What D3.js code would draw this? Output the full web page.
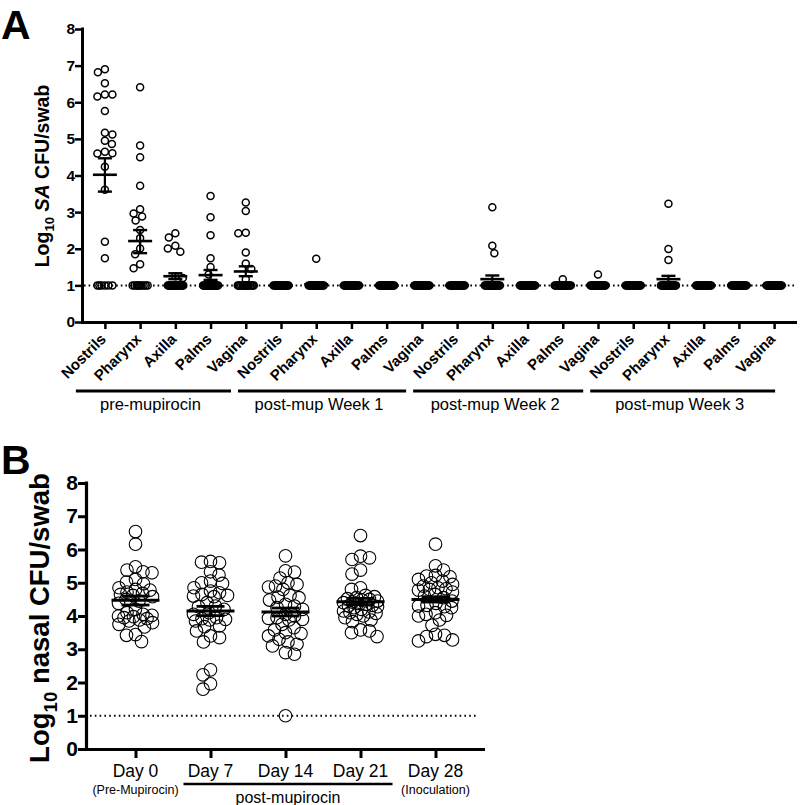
<!DOCTYPE html>
<html><head><meta charset="utf-8">
<script src="https://cdn.jsdelivr.net/npm/d3@7"></script>
<style>
html,body{margin:0;padding:0;background:#fff;}
svg{display:block;}
text{font-family:"Liberation Sans",Arial,Helvetica,sans-serif;fill:#000;}
</style></head>
<body>
<svg id="chart" width="800" height="805"></svg>
<script>
// ---------------- DATA: panel A ----------------
const sitesA = ["Nostrils","Pharynx","Axilla","Palms","Vagina",
                "Nostrils","Pharynx","Axilla","Palms","Vagina",
                "Nostrils","Pharynx","Axilla","Palms","Vagina",
                "Nostrils","Pharynx","Axilla","Palms","Vagina"];
const groupsA = ["pre-mupirocin","post-mup Week 1","post-mup Week 2","post-mup Week 3"];
const tickValuesA = [0,1,2,3,4,5,6,7,8];
const limitA = 1;

const pre_nostrils = [6.90,6.82,6.52,6.21,6.16,6.21,5.76,5.17,5.12,4.95,4.86,4.65,4.61,4.60,4.24,3.61,2.19,1.74,1,1,1,1,1,1];
const pre_pharynx  = [6.41,4.82,4.50,3.72,3.08,2.96,2.88,2.77,2.51,2.29,2.01,1.85,1.58,1.47,1,1,1,1,1,1,1,1,1,1];
const pre_axilla   = [2.42,2.31,2.08,2.01,1.92,1.25,1.20,1,1,1,1,1,1,1,1,1,1,1,1,1,1,1,1,1];
const pre_palms    = [3.44,2.86,2.37,1.74,1.50,1.30,1,1,1,1,1,1,1,1,1,1,1,1,1,1,1,1,1,1];
const pre_vagina   = [3.26,3.03,2.44,2.42,1.90,1.60,1.45,1.17,1,1,1,1,1,1,1,1,1,1,1,1,1,1,1,1];
const w1_nostrils  = [1,1,1,1,1,1,1,1,1,1,1,1,1,1,1,1,1,1,1,1,1,1,1,1];
const w1_pharynx   = [1.73,1,1,1,1,1,1,1,1,1,1,1,1,1,1,1,1,1,1,1,1,1,1,1];
const w1_axilla    = [1,1,1,1,1,1,1,1,1,1,1,1,1,1,1,1,1,1,1,1,1,1,1,1];
const w1_palms     = [1,1,1,1,1,1,1,1,1,1,1,1,1,1,1,1,1,1,1,1,1,1,1,1];
const w1_vagina    = [1,1,1,1,1,1,1,1,1,1,1,1,1,1,1,1,1,1,1,1,1,1,1,1];
const w2_nostrils  = [1,1,1,1,1,1,1,1,1,1,1,1,1,1,1,1,1,1,1,1,1,1,1,1];
const w2_pharynx   = [3.13,2.08,1.88,1,1,1,1,1,1,1,1,1,1,1,1,1,1,1,1,1,1,1,1,1];
const w2_axilla    = [1,1,1,1,1,1,1,1,1,1,1,1,1,1,1,1,1,1,1,1,1,1,1,1];
const w2_palms     = [1.17,1,1,1,1,1,1,1,1,1,1,1,1,1,1,1,1,1,1,1,1,1,1,1];
const w2_vagina    = [1.30,1,1,1,1,1,1,1,1,1,1,1,1,1,1,1,1,1,1,1,1,1,1,1];
const w3_nostrils  = [1,1,1,1,1,1,1,1,1,1,1,1,1,1,1,1,1,1,1,1,1,1,1,1];
const w3_pharynx   = [3.23,1.99,1.69,1,1,1,1,1,1,1,1,1,1,1,1,1,1,1,1,1,1,1,1,1];
const w3_axilla    = [1,1,1,1,1,1,1,1,1,1,1,1,1,1,1,1,1,1,1,1,1,1,1,1];
const w3_palms     = [1,1,1,1,1,1,1,1,1,1,1,1,1,1,1,1,1,1,1,1,1,1,1,1];
const w3_vagina    = [1,1,1,1,1,1,1,1,1,1,1,1,1,1,1,1,1,1,1,1,1,1,1,1];
const valuesA = [pre_nostrils,pre_pharynx,pre_axilla,pre_palms,pre_vagina,
                 w1_nostrils,w1_pharynx,w1_axilla,w1_palms,w1_vagina,
                 w2_nostrils,w2_pharynx,w2_axilla,w2_palms,w2_vagina,
                 w3_nostrils,w3_pharynx,w3_axilla,w3_palms,w3_vagina];
const meanA   = [4.02,2.21,1.25,1.28,1.38, 1,1.03,1,1,1, 1,1.17,1,1.01,1.01, 1,1.17,1,1,1];
const semLoA  = [3.56,1.88,1.17,1.15,1.25, 1,1.00,1,1,1, 1,1.07,1,1.00,1.00, 1,1.07,1,1,1];
const semHiA  = [4.47,2.51,1.33,1.42,1.52, 1,1.06,1,1,1, 1,1.27,1,1.03,1.04, 1,1.26,1,1,1];

// ---------------- DATA: panel B ----------------
const daysB = ["Day 0","Day 7","Day 14","Day 21","Day 28"];
const subLabelsB = ["(Pre-Mupirocin)","","","","(Inoculation)"];
const bracketB = "post-mupirocin";
const tickValuesB = [0,1,2,3,4,5,6,7,8];
const limitB = 1;
const day0  = [6.54,6.16,5.48,5.38,5.33,5.30,5.10,5.02,4.97,4.85,4.80,4.78,4.72,4.68,4.65,4.62,4.58,4.50,4.45,4.38,4.20,4.10,4.05,4.02,4.00,3.98,3.95,3.92,3.88,3.85,3.80,3.75,3.67,3.44,3.42,3.23];
const day7  = [5.64,5.62,5.60,5.33,5.23,5.05,5.00,4.98,4.85,4.75,4.70,4.65,4.62,4.60,4.58,4.40,4.30,4.28,4.20,4.10,4.05,3.95,3.92,3.90,3.88,3.85,3.70,3.68,3.55,3.40,3.35,3.22,2.38,2.23,1.96,1.80];
const day14 = [5.81,5.36,5.32,5.14,5.00,4.95,4.90,4.87,4.80,4.62,4.57,4.55,4.48,4.35,4.30,4.25,4.20,4.05,4.00,3.95,3.93,3.90,3.88,3.75,3.65,3.58,3.50,3.47,3.40,3.30,3.22,3.15,3.10,2.90,2.85,1.00];
const day21 = [6.42,5.80,5.75,5.70,5.38,5.26,4.85,4.80,4.62,4.58,4.55,4.52,4.50,4.48,4.45,4.42,4.40,4.38,4.35,4.32,4.30,4.28,4.25,4.20,4.15,4.12,4.10,4.08,4.05,4.00,3.95,3.88,3.83,3.58,3.55,3.50,3.38];
const day28 = [6.16,5.51,5.38,5.22,5.20,5.18,5.10,5.05,5.00,4.95,4.90,4.85,4.82,4.80,4.78,4.72,4.65,4.60,4.55,4.45,4.38,4.32,4.30,4.28,4.25,4.10,4.05,4.02,4.00,3.88,3.72,3.45,3.42,3.38,3.28,3.25];
const valuesB = [day0,day7,day14,day21,day28];
const meanB  = [4.47,4.15,4.12,4.43,4.50];
const semLoB = [4.33,4.01,4.00,4.34,4.42];
const semHiB = [4.60,4.29,4.24,4.53,4.58];

// ---------------- helpers ----------------
function swarm(values, y, d, maxW){
  const pts = values.map(v => ({v, y: y(v)})).sort((a,b) => a.y - b.y);
  const placed = [];
  pts.forEach((p, i) => {
    const sgn = i % 2 ? -1 : 1;
    const cands = [0];
    for (let k = 0.5; k <= maxW + 1e-9; k += 0.5) cands.push(sgn*k, -sgn*k);
    let found = null, best = 0, bestScore = -1;
    for (const x of cands){
      let md = Infinity;
      for (const q of placed){ const dd = Math.hypot(x - q.x, p.y - q.y); if (dd < md) md = dd; }
      if (md >= d){ found = x; break; }
      if (md > bestScore + 1e-6){ bestScore = md; best = x; }
    }
    p.x = found !== null ? found : best;
    placed.push(p);
  });
  return pts;
}
function yTitle(g, x, y, size, parts){
  const t = g.append("text").attr("transform", `translate(${x},${y}) rotate(-90)`)
    .attr("text-anchor","middle").attr("font-size", size).attr("font-weight","bold");
  parts.forEach(p => {
    const ts = t.append("tspan").text(p.t);
    if (p.sub){ ts.attr("font-size", size*0.68).attr("dy", size*0.28); }
    if (p.after){ ts.attr("dy", -size*0.28); }
    if (p.italic){ ts.attr("font-style","italic"); }
  });
}

const svg = d3.select("#chart");

// ================= PANEL A =================
const gA = svg.append("g");
const xA = d3.scalePoint().domain(d3.range(sitesA.length)).range([82, 797]).padding(0.65);
const yA = d3.scaleLinear().domain([0, 8]).range([322, 29]);

gA.append("text").attr("x", 1).attr("y", 39).attr("font-size", 41).attr("font-weight","bold").text("A");

// dotted limit line
gA.append("line").attr("x1", 84).attr("x2", 797).attr("y1", yA(limitA)).attr("y2", yA(limitA))
  .attr("stroke","#000").attr("stroke-width",2).attr("stroke-dasharray","1.6,3");

// y axis
const axA = gA.append("g").attr("transform","translate(82,0)")
  .call(d3.axisLeft(yA).tickValues(tickValuesA).tickSize(7).tickSizeOuter(0).tickFormat(d3.format("d")));
axA.select(".domain").attr("stroke-width",3).attr("d", `M0.5,${yA(8)-1.5}V${yA(0)+1}`);
axA.selectAll(".tick line").attr("stroke-width",2.5);
axA.selectAll(".tick text").attr("font-size",15.5).attr("font-weight","bold").attr("x",-7)
  .attr("font-family",'"Liberation Sans",Arial,sans-serif');

// x axis
const axXA = gA.append("g").attr("transform",`translate(0,${yA(0)})`)
  .call(d3.axisBottom(xA).tickSize(7).tickSizeOuter(0).tickFormat(""));
axXA.select(".domain").attr("stroke-width",3).attr("d", `M81,0.5H797`);
axXA.selectAll(".tick line").attr("stroke-width",2.5);

// category labels (rotated)
gA.selectAll("text.site").data(sitesA).join("text").attr("class","site")
  .attr("transform",(d,i)=>`translate(${xA(i)+2},${340}) rotate(-45)`)
  .attr("text-anchor","end").attr("font-size",15).attr("font-weight","bold").text(d=>d);

// group brackets
const bracketStart = [-29,-43,-44,-43];
groupsA.forEach((g, k) => {
  const first = k*5, last = k*5+4;
  const x1 = xA(first) + bracketStart[k];
  const x2 = k < groupsA.length-1 ? xA(last+1) + bracketStart[k+1] - 7 : xA(last) + 1;
  gA.append("line").attr("x1",x1).attr("x2",x2).attr("y1",391).attr("y2",391)
    .attr("stroke","#000").attr("stroke-width",3);
  gA.append("text").attr("x",(x1+x2)/2 - 3).attr("y",410).attr("text-anchor","middle")
    .attr("font-size",16.5).text(g);
});

// points
valuesA.forEach((vals, i) => {
  const pts = swarm(vals, yA, 7.5, 8);
  gA.append("g").selectAll("circle").data(pts).join("circle")
    .attr("cx", d => xA(i) + d.x).attr("cy", d => d.y).attr("r", 3.5)
    .attr("fill","none").attr("stroke","#000").attr("stroke-width",1.5);
});
// mean & SEM
meanA.forEach((m, i) => {
  const cx = xA(i), g = gA.append("g").attr("stroke","#000");
  g.append("line").attr("x1",cx-12).attr("x2",cx+12).attr("y1",yA(m)).attr("y2",yA(m)).attr("stroke-width",2.6);
  if (semHiA[i] - semLoA[i] > 0.02){
    g.append("line").attr("x1",cx).attr("x2",cx).attr("y1",yA(semLoA[i])).attr("y2",yA(semHiA[i])).attr("stroke-width",2.2);
    [semLoA[i], semHiA[i]].forEach(s => g.append("line").attr("x1",cx-7).attr("x2",cx+7)
      .attr("y1",yA(s)).attr("y2",yA(s)).attr("stroke-width",2.4));
  }
});
yTitle(gA, 49, 176, 19.5, [{t:"Log"},{t:"10",sub:true},{t:" ",after:true},{t:"SA",italic:true},{t:" CFU/swab"}]);

// ================= PANEL B =================
const gB = svg.append("g");
const xB = d3.scalePoint().domain(d3.range(daysB.length)).range([86, 485]).padding(0.66);
const yB = d3.scaleLinear().domain([0, 8]).range([749, 483]);

gB.append("text").attr("x", 1).attr("y", 474).attr("font-size", 41).attr("font-weight","bold").text("B");

gB.append("line").attr("x1", 90).attr("x2", 478).attr("y1", yB(limitB)).attr("y2", yB(limitB))
  .attr("stroke","#000").attr("stroke-width",2).attr("stroke-dasharray","1.6,3.2");

const axB = gB.append("g").attr("transform","translate(86,0)")
  .call(d3.axisLeft(yB).tickValues(tickValuesB).tickSize(8).tickSizeOuter(0).tickFormat(d3.format("d")));
axB.select(".domain").attr("stroke-width",3.2).attr("d", `M0.5,${yB(8)-1.5}V${yB(0)+1.5}`);
axB.selectAll(".tick line").attr("stroke-width",3);
axB.selectAll(".tick text").attr("font-size",21).attr("font-weight","bold").attr("x",-8)
  .attr("font-family",'"Liberation Sans",Arial,sans-serif');

const axXB = gB.append("g").attr("transform",`translate(0,${yB(0)})`)
  .call(d3.axisBottom(xB).tickSize(9).tickSizeOuter(0).tickFormat(""));
axXB.select(".domain").attr("stroke-width",3.2).attr("d", `M85,0.5H485`);
axXB.selectAll(".tick line").attr("stroke-width",3);

gB.selectAll("text.day").data(daysB).join("text").attr("class","day")
  .attr("x",(d,i)=>xB(i)).attr("y",777).attr("text-anchor","middle").attr("font-size",17.5).text(d=>d);
gB.selectAll("text.sub").data(subLabelsB).join("text").attr("class","sub")
  .attr("x",(d,i)=>xB(i)).attr("y",794).attr("text-anchor","middle").attr("font-size",12.5).text(d=>d);
gB.append("line").attr("x1", xB(1)-27).attr("x2", xB(3)+32).attr("y1",784).attr("y2",784)
  .attr("stroke","#000").attr("stroke-width",2.5);
gB.append("text").attr("x",(xB(1)-27 + xB(3)+32)/2).attr("y",803).attr("text-anchor","middle")
  .attr("font-size",16).text(bracketB);

valuesB.forEach((vals, i) => {
  const pts = swarm(vals, yB, 9, 17);
  gB.append("g").selectAll("circle").data(pts).join("circle")
    .attr("cx", d => xB(i) + d.x).attr("cy", d => d.y).attr("r", 6.3)
    .attr("fill","none").attr("stroke","#000").attr("stroke-width",1.1);
});
meanB.forEach((m, i) => {
  const cx = xB(i), g = gB.append("g").attr("stroke","#000");
  g.append("line").attr("x1",cx-24).attr("x2",cx+24).attr("y1",yB(m)).attr("y2",yB(m)).attr("stroke-width",3);
  g.append("line").attr("x1",cx).attr("x2",cx).attr("y1",yB(semLoB[i])).attr("y2",yB(semHiB[i])).attr("stroke-width",2.6);
  [semLoB[i], semHiB[i]].forEach(s => g.append("line").attr("x1",cx-14).attr("x2",cx+14)
    .attr("y1",yB(s)).attr("y2",yB(s)).attr("stroke-width",2.8));
});
yTitle(gB, 49, 618, 27.5, [{t:"Log"},{t:"10",sub:true},{t:" nasal CFU/swab",after:true}]);
</script>
</body></html>
